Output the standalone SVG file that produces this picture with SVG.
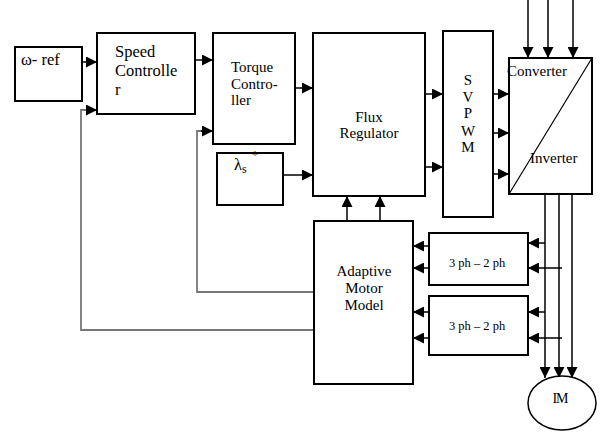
<svg xmlns="http://www.w3.org/2000/svg" width="602" height="432" viewBox="0 0 602 432">
<style>
.box{fill:#fff;stroke:#000;stroke-width:2}
.t{font-family:"Liberation Serif","Times New Roman",serif;font-size:16.5px;fill:#000}
.ts{font-family:"Liberation Serif","Times New Roman",serif;font-size:15px;fill:#000}
.tp{font-family:"Liberation Serif","Times New Roman",serif;font-size:12.5px;fill:#000}
.c{stroke:#000;stroke-width:1.5;fill:none}
.g{stroke:#777;stroke-width:1.8;fill:none}
</style>
<defs>
<marker id="ah" viewBox="0 0 10 10" refX="10" refY="5" markerWidth="11" markerHeight="11" markerUnits="userSpaceOnUse" orient="auto">
<path d="M0,0 L10,5 L0,10 z" fill="#000"/>
</marker>
</defs>
<rect width="602" height="432" fill="#fff"/>
<g id="connectors">
<line class="c" x1="82" y1="62" x2="97" y2="62" marker-end="url(#ah)"/>
<polyline class="g" points="314,330 81,330 81,110 88,110"/>
<line class="c" x1="86" y1="110" x2="97" y2="110" marker-end="url(#ah)"/>
<line class="c" x1="195" y1="60" x2="213" y2="60" marker-end="url(#ah)"/>
<polyline class="g" points="314,292 197,292 197,131 203,131"/>
<line class="c" x1="201" y1="131" x2="213" y2="131" marker-end="url(#ah)"/>
<line class="c" x1="295" y1="88" x2="313" y2="88" marker-end="url(#ah)"/>
<line class="c" x1="280" y1="175" x2="313" y2="175" marker-end="url(#ah)"/>
<line class="c" x1="425" y1="94" x2="443" y2="94" marker-end="url(#ah)"/>
<line class="c" x1="425" y1="167" x2="443" y2="167" marker-end="url(#ah)"/>
<line class="c" x1="493" y1="94" x2="509" y2="94" marker-end="url(#ah)"/>
<line class="c" x1="493" y1="133" x2="509" y2="133" marker-end="url(#ah)"/>
<line class="c" x1="493" y1="174" x2="509" y2="174" marker-end="url(#ah)"/>
<line class="c" x1="528" y1="0" x2="528" y2="58" marker-end="url(#ah)"/>
<line class="c" x1="548" y1="0" x2="548" y2="58" marker-end="url(#ah)"/>
<line class="c" x1="573" y1="0" x2="573" y2="58" marker-end="url(#ah)"/>
<line class="c" x1="347" y1="222" x2="347" y2="196" marker-end="url(#ah)"/>
<line class="c" x1="380" y1="222" x2="380" y2="196" marker-end="url(#ah)"/>
<line class="c" x1="429" y1="246" x2="413" y2="246" marker-end="url(#ah)"/>
<line class="c" x1="429" y1="268" x2="413" y2="268" marker-end="url(#ah)"/>
<line class="c" x1="429" y1="312" x2="413" y2="312" marker-end="url(#ah)"/>
<line class="c" x1="429" y1="338" x2="413" y2="338" marker-end="url(#ah)"/>
<line class="c" x1="545" y1="243" x2="528" y2="243" marker-end="url(#ah)"/>
<line class="c" x1="562" y1="268" x2="528" y2="268" marker-end="url(#ah)"/>
<line class="c" x1="545" y1="312" x2="528" y2="312" marker-end="url(#ah)"/>
<line class="c" x1="562" y1="338" x2="528" y2="338" marker-end="url(#ah)"/>
<line class="c" x1="545" y1="194" x2="545" y2="378" marker-end="url(#ah)"/>
<line class="c" x1="559" y1="194" x2="559" y2="378" marker-end="url(#ah)"/>
<line class="c" x1="572" y1="194" x2="572" y2="378" marker-end="url(#ah)"/>
</g>
<g id="wref">
<rect class="box" x="15" y="47" width="67" height="54"/>
<text class="t" x="21" y="65">ω- ref</text>
</g>
<g id="speed">
<rect class="box" x="97" y="33" width="98" height="81"/>
<text class="t" x="115" y="57">Speed</text>
<text class="t" x="115" y="76">Controlle</text>
<text class="t" x="115" y="95">r</text>
</g>
<g id="torque">
<rect class="box" x="213" y="33" width="82" height="111"/>
<text class="ts" x="231" y="72">Torque</text>
<text class="ts" x="231" y="89">Contro-</text>
<text class="ts" x="231" y="105">ller</text>
</g>
<g id="lambda">
<rect class="box" x="217" y="153" width="66" height="52"/>
<text class="t" x="234" y="170">λ<tspan style="font-size:12px" dy="3">s</tspan></text>
<text class="ts" x="252" y="159" style="font-size:12px">*</text>
</g>
<g id="flux">
<rect class="box" x="313" y="33" width="112" height="163"/>
<text class="ts" x="369" y="122" text-anchor="middle">Flux</text>
<text class="ts" x="369" y="138" text-anchor="middle">Regulator</text>
</g>
<g id="svpwm">
<rect class="box" x="443" y="31" width="50" height="186"/>
<g class="ts" text-anchor="middle">
<text x="468" y="85">S</text>
<text x="468" y="102">V</text>
<text x="468" y="118">P</text>
<text x="468" y="136">W</text>
<text x="468" y="152">M</text>
</g>
</g>
<g id="converter">
<rect class="box" x="509" y="58" width="83" height="136"/>
<line x1="509" y1="194" x2="592" y2="58" stroke="#000" stroke-width="1.2"/>
<text class="ts" x="507" y="76">Converter</text>
<text class="ts" x="530" y="163">Inverter</text>
</g>
<g id="adaptive">
<rect class="box" x="314" y="221" width="99" height="163"/>
<text class="ts" x="364" y="276" text-anchor="middle">Adaptive</text>
<text class="ts" x="364" y="293" text-anchor="middle">Motor</text>
<text class="ts" x="364" y="310" text-anchor="middle">Model</text>
</g>
<g id="ph1">
<rect class="box" x="429" y="233" width="99" height="52"/>
<text class="tp" x="477" y="267" text-anchor="middle">3 ph – 2 ph</text>
</g>
<g id="ph2">
<rect class="box" x="429" y="296" width="99" height="59"/>
<text class="tp" x="477" y="330" text-anchor="middle">3 ph – 2 ph</text>
</g>
<g id="im">
<ellipse cx="562" cy="403" rx="34" ry="27" fill="#fff" stroke="#000" stroke-width="1.5"/>
<text class="tp" x="560" y="403" text-anchor="middle" style="font-size:14px;letter-spacing:-1px">IM</text>
</g>
</svg>
